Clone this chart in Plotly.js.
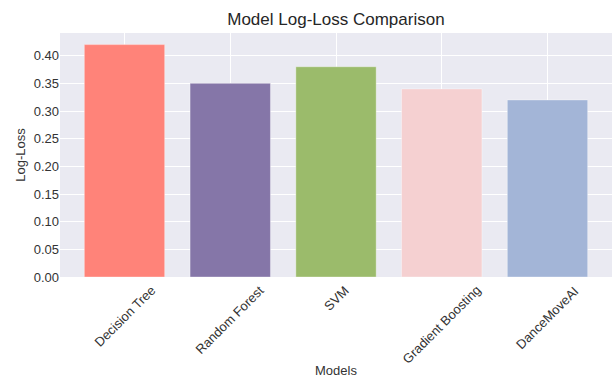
<!DOCTYPE html>
<html>
<head>
<meta charset="utf-8">
<script src="https://cdn.plot.ly/plotly-3.0.1.min.js"></script>
<style>html,body{margin:0;padding:0;background:#fff;}#chart{width:613px;height:378px;}</style>
</head>
<body>
<div id="chart"></div>
<script>
const models = ["Decision Tree", "Random Forest", "SVM", "Gradient Boosting", "DanceMoveAI"];
const logLoss = [0.42, 0.35, 0.38, 0.34, 0.32];
const barColors = ["#FF8379", "#8576A8", "#9BBB6B", "#F5D0D1", "#A3B5D7"];
const yTicks = [0, 0.05, 0.10, 0.15, 0.20, 0.25, 0.30, 0.35, 0.40];
const yTickText = ["0.00", "0.05", "0.10", "0.15", "0.20", "0.25", "0.30", "0.35", "0.40"];

const font = "Liberation Sans, Arial, sans-serif";

const trace = {
  type: "bar",
  x: models,
  y: logLoss,
  width: 0.76,
  marker: { color: barColors, line: { color: "rgba(255,255,255,0.35)", width: 1 } },
  hoverinfo: "skip"
};

const annotations = models.map(m => ({
  x: m, xref: "x", y: 0, yref: "paper",
  text: m, showarrow: false, textangle: -45,
  xanchor: "center", yanchor: "top", yshift: -3,
  font: { family: font, size: 13, color: "#333333" }
}));
annotations.push({
  x: 0.5, xref: "paper", y: -0.385, yref: "paper",
  text: "Models", showarrow: false, xanchor: "center", yanchor: "middle",
  font: { family: font, size: 13, color: "#333333" }
});

const layout = {
  width: 613, height: 378,
  margin: { l: 60, r: 1, t: 33, b: 101 },
  paper_bgcolor: "#ffffff",
  plot_bgcolor: "#EAEAF2",
  showlegend: false,
  title: { text: "Model Log-Loss Comparison", font: { family: font, size: 17, color: "#262626" },
           x: 0.548, xanchor: "center", y: 0.95, yanchor: "middle", yref: "container" },
  xaxis: {
    type: "category",
    range: [-0.61, 4.61],
    showticklabels: false,
    ticks: "",
    showgrid: true, gridcolor: "#ffffff", gridwidth: 1,
    zeroline: false, showline: false
  },
  yaxis: {
    range: [0, 0.441],
    tickvals: yTicks, ticktext: yTickText,
    tickfont: { family: font, size: 13, color: "#333333" },
    ticks: "", ticklen: 0,
    showgrid: true, gridcolor: "#ffffff", gridwidth: 1,
    zeroline: false, showline: false,
    title: { text: "Log-Loss", font: { family: font, size: 13, color: "#333333" }, standoff: 5 }
  },
  annotations: annotations,
  bargap: 0.24
};

Plotly.newPlot("chart", [trace], layout, { staticPlot: true, displayModeBar: false });
</script>
</body>
</html>
